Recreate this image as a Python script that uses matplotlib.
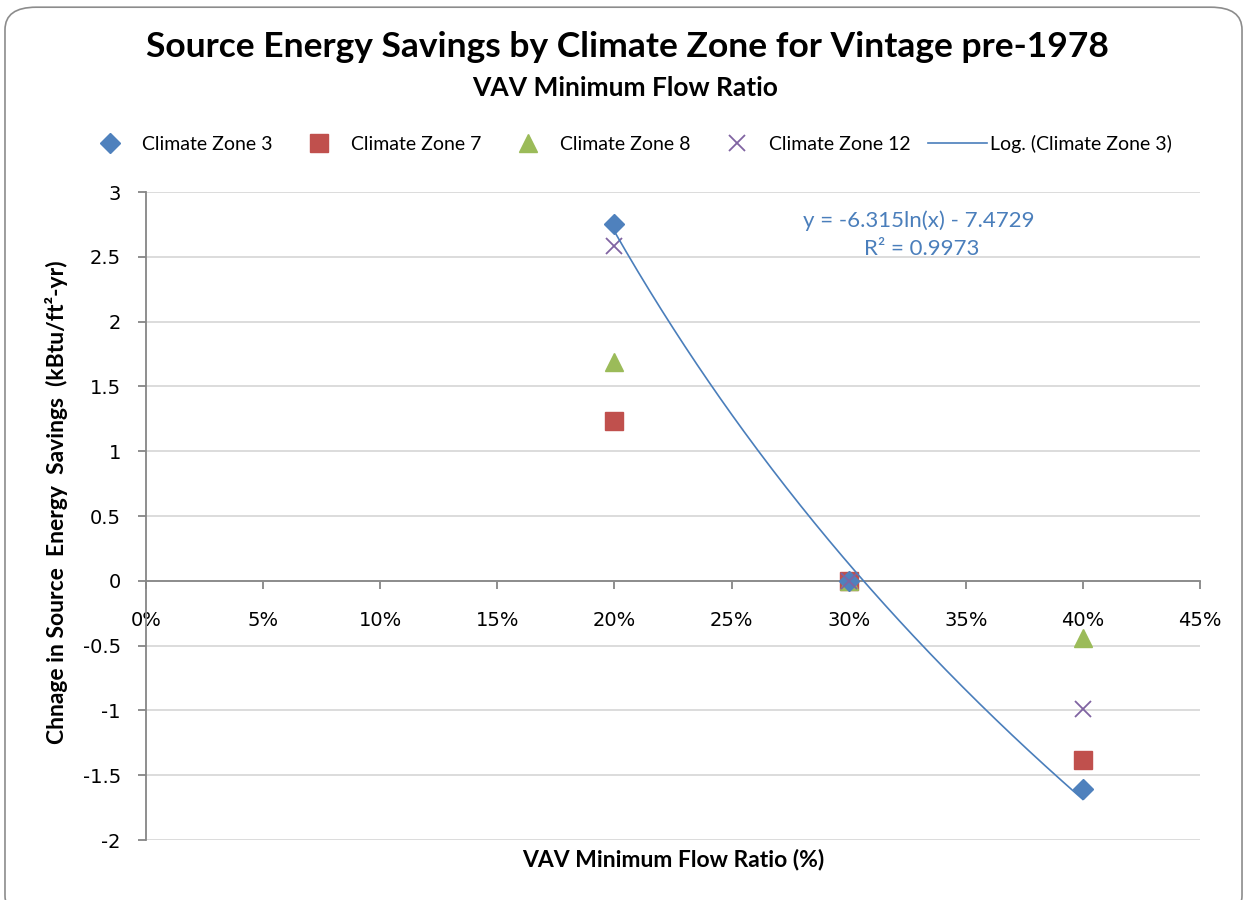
import numpy as np
import matplotlib
matplotlib.use("Agg")
import matplotlib.pyplot as plt
from matplotlib.patches import FancyBboxPatch
from matplotlib.ticker import FuncFormatter, MultipleLocator

# ---- data ----
flow_ratio = [0.20, 0.30, 0.40]
zone3 = [2.75, 0.0, -1.61]
zone7 = [1.23, 0.0, -1.38]
zone8 = [1.69, 0.0, -0.44]
zone12 = [2.58, 0.0, -0.99]
series_names = ["Climate Zone 3", "Climate Zone 7", "Climate Zone 8", "Climate Zone 12"]
trend_label = "Log. (Climate Zone 3)"
trend_eq = "y = -6.315ln(x) - 7.4729"
trend_r2 = "R² = 0.9973"

title = "Source Energy Savings by Climate Zone for Vintage pre-1978"
subtitle = "VAV Minimum Flow Ratio"
xlabel = "VAV Minimum Flow Ratio (%)"
ylabel = "Chnage in Source  Energy  Savings  (kBtu/ft²-yr)"

c_blue = "#4F81BD"
c_red = "#C0504D"
c_green = "#9BBB59"
c_purple = "#8064A2"
c_trend = "#4A7EBB"
axis_gray = "#868686"
grid_gray = "#D9D9D9"

TF = "Lato"

fig = plt.figure(figsize=(12.47, 9.0), dpi=100)
fig.patch.set_facecolor("white")

# chart border
border = FancyBboxPatch((0.004, -0.02), 0.992, 1.012, boxstyle="round,pad=0,rounding_size=0.025",
                        transform=fig.transFigure, fill=False, edgecolor="#8C8C8C", linewidth=1.2)
fig.patches.append(border)

ax = fig.add_axes([146/1247, 1-840/900, (1200-146)/1247, (840-192)/900])

ax.plot(flow_ratio, zone3, linestyle="none", marker="D", markersize=10, color=c_blue,
        label=series_names[0], zorder=4)
ax.plot(flow_ratio, zone7, linestyle="none", marker="s", markersize=12.5, color=c_red,
        label=series_names[1], zorder=3)
ax.plot(flow_ratio, zone8, linestyle="none", marker="^", markersize=13, color=c_green,
        label=series_names[2], zorder=3)
ax.plot(flow_ratio, zone12, linestyle="none", marker="x", markersize=12, markeredgewidth=1.3,
        color=c_purple, label=series_names[3], zorder=4)

# logarithmic trendline fitted to Climate Zone 3
b, a = np.polyfit(np.log(flow_ratio), zone3, 1)
xs = np.linspace(min(flow_ratio), max(flow_ratio), 200)
ax.plot(xs, b*np.log(xs) + a, color=c_trend, linewidth=1.2, label=trend_label, zorder=5)

ax.text(0.330, 2.78, trend_eq, color=c_trend, fontsize=16, family=TF, ha="center", va="center")
ax.text(0.331, 2.56, trend_r2, color=c_trend, fontsize=16, family=TF, ha="center", va="center")

ax.set_xlim(0, 0.45)
ax.set_ylim(-2, 3)
ax.xaxis.set_major_locator(MultipleLocator(0.05))
ax.yaxis.set_major_locator(MultipleLocator(0.5))
ax.xaxis.set_major_formatter(FuncFormatter(lambda v, p: f"{v*100:.0f}%"))
ax.yaxis.set_major_formatter(FuncFormatter(lambda v, p: f"{v:g}"))

ax.spines["bottom"].set_position(("data", 0))
ax.spines["top"].set_visible(False)
ax.spines["right"].set_visible(False)
for s in ("left", "bottom"):
    ax.spines[s].set_color(axis_gray)
    ax.spines[s].set_linewidth(1.3)
ax.grid(axis="y", color=grid_gray, linewidth=1.3)
ax.set_axisbelow(True)
ax.tick_params(axis="x", direction="out", length=6, width=1.3, color=axis_gray,
               labelsize=14, pad=16, labelcolor="black")
ax.tick_params(axis="y", direction="out", length=6, width=1.3, color=axis_gray,
               labelsize=14, pad=12, labelcolor="black")
for lab in ax.get_xticklabels() + ax.get_yticklabels():
    lab.set_family("DejaVu Sans")

ax.set_xlabel(xlabel, fontsize=16.5, fontweight="bold", family=TF, va="center")
ax.xaxis.set_label_coords(0.5, -20/648)
ax.set_ylabel(ylabel, fontsize=16.5, fontweight="bold", family=TF, va="center")
ax.yaxis.set_label_coords(-89/1054, 338/648)

fig.text(627/1247, 1-47/900, title, fontsize=25.5, fontweight="bold", family=TF, ha="center", va="center")
fig.text(625/1247, 1-88/900, subtitle, fontsize=19, fontweight="bold", family=TF, ha="center", va="center")

leg = fig.legend(loc="center", bbox_to_anchor=(626/1247, 1-144/900), ncol=5, frameon=False,
                 prop={"family": TF, "size": 14}, handlelength=3.0, columnspacing=0.9,
                 handletextpad=0.15)

fig.savefig("out.png", dpi=100, facecolor="white")
